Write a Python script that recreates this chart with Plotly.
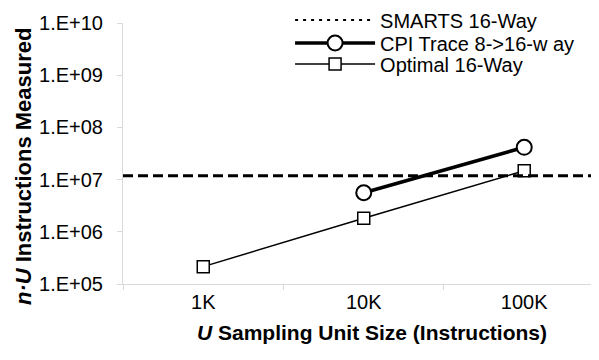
import plotly.graph_objects as go

categories = ["1K", "10K", "100K"]
smarts_value = 1.19e7
cpi_x = ["10K", "100K"]
cpi_values = [5.6e6, 4.16e7]
optimal_values = [2.15e5, 1.82e6, 1.48e7]
y_tickvals = [1e5, 1e6, 1e7, 1e8, 1e9, 1e10]
y_ticktext = ["1.E+05", "1.E+06", "1.E+07", "1.E+08", "1.E+09", "1.E+10"]

FONT = "Arial, Liberation Sans, sans-serif"

fig = go.Figure()

# legend entry for the SMARTS line (line itself drawn with add_hline)
fig.add_trace(go.Scatter(
    x=[None], y=[None], mode="lines", name="SMARTS 16-Way", legend="legend",
    line=dict(color="black", width=2, dash="3px,5px"),
))
fig.add_trace(go.Scatter(
    x=cpi_x, y=cpi_values, mode="lines+markers", name="CPI Trace 8->16-w ay",
    legend="legend2",
    line=dict(color="black", width=3.5),
    marker=dict(symbol="circle", size=15, color="white",
                line=dict(color="black", width=2)),
))
fig.add_trace(go.Scatter(
    x=categories, y=optimal_values, mode="lines+markers", name="Optimal 16-Way",
    legend="legend3",
    line=dict(color="black", width=1.5),
    marker=dict(symbol="square", size=12, color="white",
                line=dict(color="black", width=1.5)),
))

fig.add_hline(y=smarts_value, line=dict(color="black", width=3, dash="10px,5px"))

legend_common = dict(x=0.357, xanchor="left", yanchor="middle",
                     bgcolor="rgba(0,0,0,0)", font=dict(size=20),
                     itemwidth=80)

# page body has an 8px margin: the figure is sized to fit the window without scrollbars
fig.update_layout(
    width=583, height=344,
    margin=dict(l=115, r=0, t=15, b=68, autoexpand=False),
    paper_bgcolor="white", plot_bgcolor="white",
    font=dict(family=FONT, size=20, color="black"),
    showlegend=True,
    legend=dict(y=1.0115, **legend_common),
    legend2=dict(y=0.9234, **legend_common),
    legend3=dict(y=0.843, **legend_common),
    xaxis=dict(
        type="category", categoryorder="array", categoryarray=categories,
        range=[-0.5, 2.416], tickson="boundaries",
        ticks="outside", ticklen=5, tickcolor="#d9d9d9",
        showline=True, linecolor="#d9d9d9", linewidth=1,
        showgrid=False, zeroline=False, automargin=False,
        tickfont=dict(size=20),
    ),
    yaxis=dict(
        type="log", range=[5, 10],
        tickvals=y_tickvals, ticktext=y_ticktext,
        ticks="outside", ticklen=5, tickcolor="#d9d9d9",
        showline=True, linecolor="#d9d9d9", linewidth=1,
        showgrid=False, zeroline=False, automargin=False,
        tickfont=dict(size=20), ticklabelstandoff=10,
    ),
    annotations=[
        dict(text="<b><i>U</i> Sampling Unit Size (Instructions)</b>",
             xref="paper", yref="paper", x=0.532, y=-0.184,
             xanchor="center", yanchor="middle", showarrow=False,
             font=dict(size=21)),
        dict(text="<b><i>n·U</i> Instructions Measured</b>",
             xref="paper", yref="paper", x=-0.2137, y=0.452,
             xanchor="center", yanchor="middle", showarrow=False,
             textangle=-90, font=dict(size=22)),
    ],
)

fig.write_html("out.html")
